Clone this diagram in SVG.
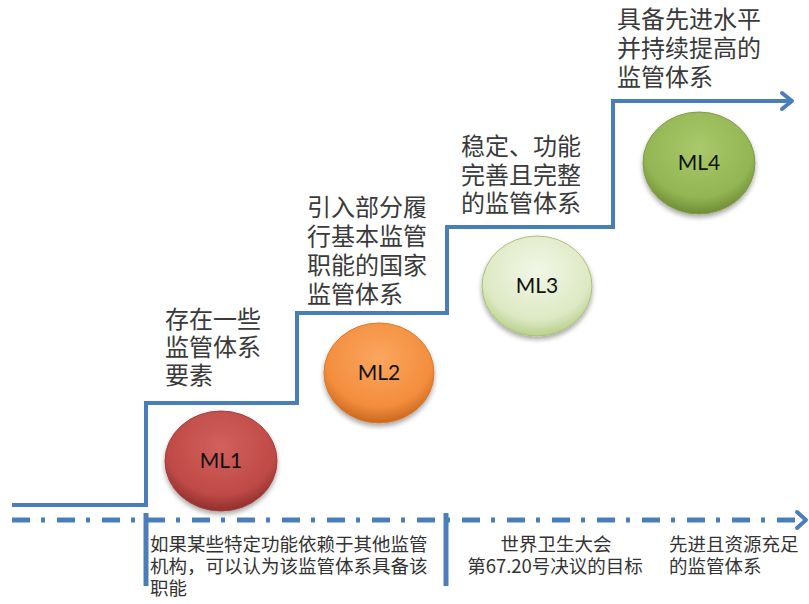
<svg xmlns="http://www.w3.org/2000/svg" width="809" height="604" viewBox="0 0 809 604">
<style>
.step{fill:none;stroke:#4a7ebb;stroke-width:4;stroke-linejoin:miter}
.axis{fill:none;stroke:#4a7ebb;stroke-width:5;stroke-dasharray:18 11 4 12}
.tick{stroke:#4a7ebb;stroke-width:5}
.head{fill:none;stroke:#4a7ebb;stroke-width:4;stroke-linecap:round;stroke-linejoin:round}
.big{font-family:"Noto Sans CJK SC","Noto Sans",sans-serif;font-size:24px;fill:#3a3a3a}
.small{font-family:"Noto Sans CJK SC","Noto Sans",sans-serif;font-size:18.5px;fill:#333}
.ml{font-family:Lato,"Liberation Sans",sans-serif;font-size:21px;fill:#111;text-anchor:middle}
</style>
<defs>
<radialGradient id="gRed" cx="50%" cy="35%" r="65%">
<stop offset="0" stop-color="#d2605c"/><stop offset="0.75" stop-color="#bf4a47"/><stop offset="1" stop-color="#8f2f2d"/>
</radialGradient>
<radialGradient id="gOrange" cx="50%" cy="35%" r="65%">
<stop offset="0" stop-color="#fba65e"/><stop offset="0.75" stop-color="#f38d3d"/><stop offset="1" stop-color="#c8681f"/>
</radialGradient>
<radialGradient id="gLight" cx="50%" cy="35%" r="65%">
<stop offset="0" stop-color="#f2f7e6"/><stop offset="0.75" stop-color="#dde9c4"/><stop offset="1" stop-color="#b9cf8c"/>
</radialGradient>
<radialGradient id="gGreen" cx="50%" cy="35%" r="65%">
<stop offset="0" stop-color="#a9c96a"/><stop offset="0.75" stop-color="#93b553"/><stop offset="1" stop-color="#6f8c37"/>
</radialGradient>
<filter id="sh" x="-20%" y="-20%" width="140%" height="150%">
<feGaussianBlur in="SourceAlpha" stdDeviation="2.5"/><feOffset dy="3"/><feComponentTransfer><feFuncA type="linear" slope="0.35"/></feComponentTransfer>
<feMerge><feMergeNode/><feMergeNode in="SourceGraphic"/></feMerge>
</filter>
</defs>
<rect width="809" height="604" fill="#fff"/>

<g id="connectors">
<polyline class="step" points="12,505 146,505 146,403 297,403 297,313 447,313 447,227 613,227 613,101 792,101"/>
<polyline class="head" points="782,93 792,101 782,109"/>
<line class="axis" x1="12" y1="520" x2="804" y2="520"/>
<polyline class="head" points="797,512 806,520 797,528"/>
<line class="tick" x1="146" y1="513" x2="146" y2="586"/>
<line class="tick" x1="446" y1="513" x2="446" y2="586"/>
</g>

<g id="ml1">
<ellipse cx="221" cy="461" rx="56" ry="50" fill="url(#gRed)" stroke="#a33e3b" stroke-width="1" filter="url(#sh)"/>
<text class="ml" x="221" y="468">ML1</text>
</g>
<g id="ml2">
<ellipse cx="379" cy="373" rx="55" ry="50" fill="url(#gOrange)" stroke="#d77a30" stroke-width="1" filter="url(#sh)"/>
<text class="ml" x="379" y="380">ML2</text>
</g>
<g id="ml3">
<ellipse cx="537" cy="286" rx="55" ry="50" fill="url(#gLight)" stroke="#a8c277" stroke-width="1" filter="url(#sh)"/>
<text class="ml" x="537" y="293">ML3</text>
</g>
<g id="ml4">
<ellipse cx="699" cy="163" rx="56" ry="51" fill="url(#gGreen)" stroke="#7f9d45" stroke-width="1" filter="url(#sh)"/>
<text class="ml" x="699" y="170">ML4</text>
</g>

<g id="label1">
<text class="big"><tspan x="165" y="328">存在一些</tspan><tspan x="165" y="356">监管体系</tspan><tspan x="165" y="384">要素</tspan></text>
</g>
<g id="label2">
<text class="big"><tspan x="307" y="216">引入部分履</tspan><tspan x="307" y="245">行基本监管</tspan><tspan x="307" y="274">职能的国家</tspan><tspan x="307" y="303">监管体系</tspan></text>
</g>
<g id="label3">
<text class="big"><tspan x="461" y="155">稳定、功能</tspan><tspan x="461" y="184">完善且完整</tspan><tspan x="461" y="212">的监管体系</tspan></text>
</g>
<g id="label4">
<text class="big"><tspan x="617" y="28">具备先进水平</tspan><tspan x="617" y="57">并持续提高的</tspan><tspan x="617" y="86">监管体系</tspan></text>
</g>

<g id="note1">
<text class="small"><tspan x="150" y="551">如果某些特定功能依赖于其他监管</tspan><tspan x="150" y="573">机构，可以认为该监管体系具备该</tspan><tspan x="150" y="595">职能</tspan></text>
</g>
<g id="note2">
<text class="small" text-anchor="middle"><tspan x="556" y="551">世界卫生大会</tspan><tspan x="555" y="573">第67.20号决议的目标</tspan></text>
</g>
<g id="note3">
<text class="small"><tspan x="669" y="551">先进且资源充足</tspan><tspan x="669" y="573">的监管体系</tspan></text>
</g>
</svg>
